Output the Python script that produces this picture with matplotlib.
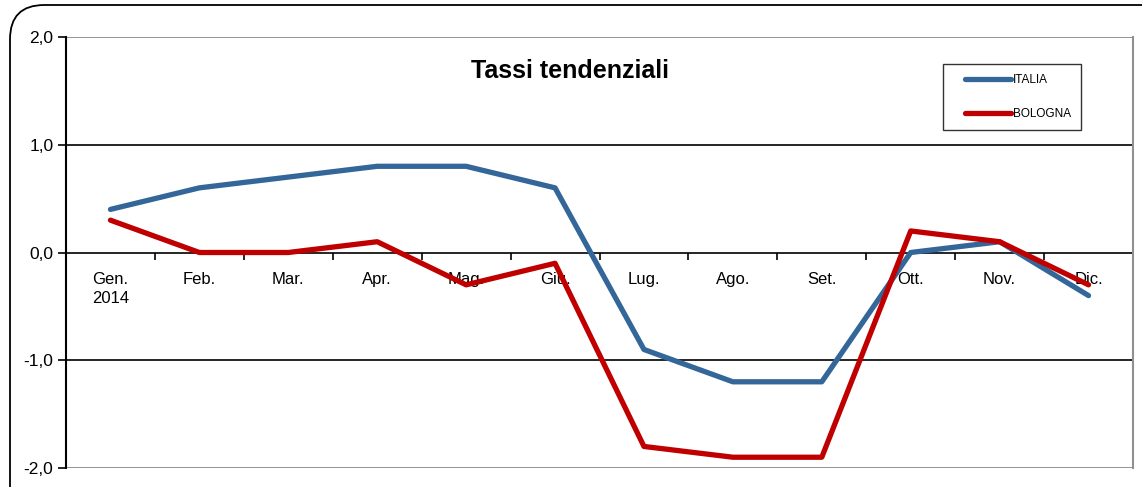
import matplotlib
matplotlib.use("Agg")
import numpy as np
import matplotlib.pyplot as plt
from matplotlib.patches import FancyBboxPatch
from matplotlib.legend_handler import HandlerLine2D
from matplotlib.ticker import FixedLocator, FuncFormatter

plt.rcParams["font.family"] = ["Liberation Sans", "DejaVu Sans"]

months = ["Gen.\n2014", "Feb.", "Mar.", "Apr.", "Mag.", "Giu.",
          "Lug.", "Ago.", "Set.", "Ott.", "Nov.", "Dic."]
italia = [0.4, 0.6, 0.7, 0.8, 0.8, 0.6, -0.9, -1.2, -1.2, 0.0, 0.1, -0.4]
bologna = [0.3, 0.0, 0.0, 0.1, -0.3, -0.1, -1.8, -1.9, -1.9, 0.2, 0.1, -0.3]
yticks = [-2.0, -1.0, 0.0, 1.0, 2.0]

W, H = 1142, 487
fig = plt.figure(figsize=(W / 100, H / 100), dpi=100)
ax = fig.add_axes([66 / W, 1 - 468 / H, (1133 - 66) / W, (468 - 37) / H])

x = range(len(months))
ax.plot(x, italia, color="#336699", lw=3.8, label="ITALIA", solid_capstyle="round", zorder=3)
ax.plot(x, bologna, color="#C00000", lw=3.8, label="BOLOGNA", solid_capstyle="round", zorder=4)

ax.set_xlim(-0.5, len(months) - 0.5)
ax.set_ylim(-2, 2)

# grid lines
for v in yticks:
    c = "#808080" if abs(v) == 2 else "black"
    ax.axhline(v, color=c, lw=1.2, zorder=1)

for s in ["top", "bottom"]:
    ax.spines[s].set_visible(False)
ax.spines["left"].set_linewidth(1.5)
ax.spines["right"].set_color("#909090")
ax.spines["right"].set_linewidth(1.5)

ax.yaxis.set_major_locator(FixedLocator(yticks))
ax.yaxis.set_major_formatter(FuncFormatter(lambda v, p: f"{v:.1f}".replace(".", ",")))
ax.tick_params(axis="y", length=6, width=1.2, labelsize=12.5, pad=3)

# x tick marks at category boundaries, labels at centers
ax.xaxis.set_ticks_position("bottom")
ax.spines["bottom"].set_position(("data", 0))
ax.set_xticks([i + 0.5 for i in range(len(months))])
ax.set_xticklabels([])
ax.tick_params(axis="x", which="major", direction="out", length=5, width=1.2)
ax.set_xticks(list(x), minor=True)
ax.set_xticklabels(months, minor=True, ha="center", va="top", linespacing=1.3)
ax.tick_params(axis="x", which="minor", length=0, labelsize=12, pad=14)

fig.text(570 / W, 1 - 71 / H, "Tassi tendenziali", ha="center", va="center",
         fontsize=18, fontweight="bold")


class PaddedLine(HandlerLine2D):
    # leave blank space left of the legend line, like the reference box
    def get_xdata(self, legend, xdescent, ydescent, width, height, fontsize):
        lead = 8.5
        xd = np.array([-xdescent + lead, -xdescent + width])
        return xd, xd


fs = 8.5
leg = ax.legend(loc="upper left",
                bbox_to_anchor=((943 - 66) / (1133 - 66), 1 - (64 - 37) / (468 - 37)),
                fontsize=fs, frameon=True, fancybox=False, edgecolor="black",
                handlelength=42 / fs, handletextpad=0.1, labelspacing=1.85,
                borderpad=0.85, borderaxespad=0,
                handler_map={l: PaddedLine() for l in ax.get_lines()[:2]})
leg.get_frame().set_linewidth(1.0)

border = FancyBboxPatch((10 / W, -0.1), 1.1, 1 - 5 / H + 0.1,
                        boxstyle="round,pad=0,rounding_size=0.03",
                        transform=fig.transFigure, fill=False, edgecolor="black",
                        lw=1.3, clip_on=False, mutation_aspect=W / H)
fig.patches.append(border)

fig.savefig("out.png", dpi=100)
